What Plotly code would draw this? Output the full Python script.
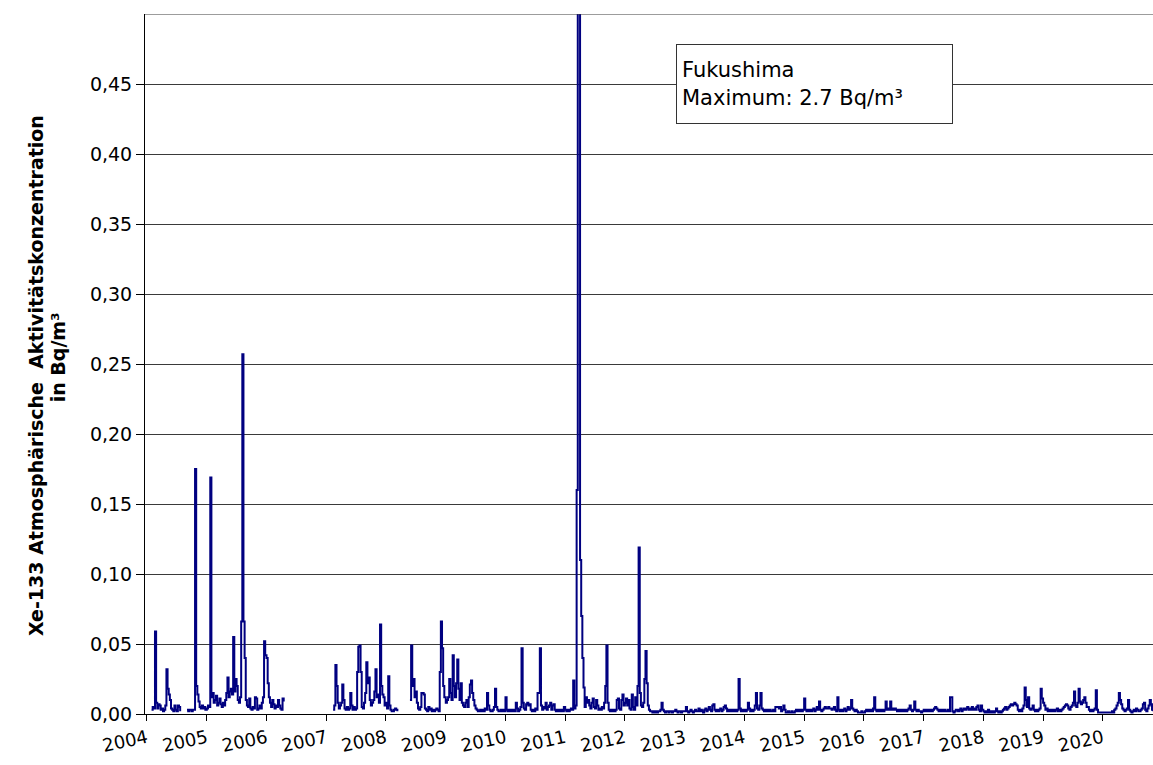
import pandas as pd
import plotly.graph_objects as go

# Weekly Xe-133 activity concentrations in mBq/m³ (None = no measurement).
# Each list starts with the first week of January of its year.
xe_2004 = [None, None, None, None, 3, 5, 4, 59, 8, 4, 7, 6, 3, 4, 2, 3, 6, 32, 18, 14,
           10, 4, 3, 2, 6, 3, 2, 6, 5, 2, None, None, None, None, None, 3, 2, 3, 3, 2,
           3, 3, 175, 20, 14, 9, 5, 4, 6, 4, 5, 3]
xe_2005 = [4, 6, 5, 169, 12, 15, 8, 10, 13, 6, 8, 11, 7, 5, 8, 6, 10, 15, 26, 12,
           16, 18, 14, 55, 16, 25, 20, 10, 8, 12, 66, 257, 66, 40, 10, 6, 5, 11, 4, 3,
           5, 4, 12, 11, 3, 4, 6, 4, 8, 12, 52, 42]
xe_2006 = [40, 22, 12, 8, 5, 10, 7, 4, 6, 5, 10, 6, 4, 3, 11, 9, None, None, None, None,
           None, None, None, None, None, None, None, None, None, None, None, None, None, None, None, None,
           None, None, None, None, None, None, None, None, None, None, None, None, None, None, None, None]
xe_2007 = [None, None, None, None, None, None, 3, 6, 35, 20, 8, 4, 6, 8, 21, 10, 4, 3, 5, 3,
           4, 15, 6, 3, 5, 3, 4, 30, 48, 49, 30, 5, 4, 8, 15, 37, 22, 26, 10, 6,
           8, 10, 16, 32, 12, 14, 8, 64, 20, 14, 12, 6]
xe_2008 = [8, 4, 27, 6, 3, 2, 2, 3, 4, 3, 2, None, None, None, None, None, None, None, None, None,
           None, 10, 49, 20, 25, 12, 16, 8, 4, 3, 5, 15, 15, 14, 4, 3, 2, 5, 3, 4,
           2, 3, 2, 3, 4, 3, 2, 30, 66, 47, 20, 12]
xe_2009 = [8, 10, 12, 25, 15, 10, 42, 20, 12, 22, 39, 18, 10, 22, 8, 6, 5, 8, 10, 5,
           12, 21, 24, 15, 10, 6, 4, 3, 2, 2, 3, 2, 3, 2, 4, 3, 15, 6, 3, 2,
           2, 3, 5, 18, 5, 3, 2, 2, 3, 2, 3, 2]
xe_2010 = [12, 3, 2, 3, 2, 3, 2, 3, 2, 8, 4, 2, 3, 5, 47, 8, 4, 3, 7, 8,
           6, 7, 3, 2, 3, 2, 4, 3, 15, 15, 47, 6, 3, 5, 4, 8, 3, 5, 6, 8,
           3, 6, 7, 3, 2, 3, 2, 3, 2, 3, 2, 5]
xe_2011 = [3, 2, 3, 2, 3, 4, 3, 24, 4, 6, 160, 2700, 1200, 110, 70, 40, 19, 5, 12, 8,
           10, 6, 4, 8, 11, 5, 4, 10, 6, 3, 4, 3, 5, 4, 8, 20, 49, 8, 3, 2,
           3, 2, 3, 2, 3, 10, 11, 4, 3, 10, 14, 6]
xe_2012 = [8, 11, 6, 10, 4, 3, 14, 5, 3, 12, 6, 20, 119, 15, 6, 5, 8, 25, 45, 22,
           6, 3, 2, 2, 1, 2, 1, 2, 1, 2, 2, 3, 8, 3, 2, 1, 2, 2, 1, 2,
           2, 1, 2, 2, 3, 2, 1, 2, 2, 1, 2, 2]
xe_2013 = [2, 5, 2, 1, 2, 3, 2, 1, 2, 3, 2, 2, 4, 2, 3, 2, 1, 3, 4, 2,
           3, 5, 3, 2, 6, 7, 3, 2, 3, 2, 3, 4, 2, 3, 5, 6, 4, 2, 3, 2,
           3, 2, 3, 2, 3, 2, 3, 25, 4, 2, 3, 2]
xe_2014 = [3, 2, 3, 8, 4, 2, 3, 2, 3, 6, 15, 4, 3, 6, 15, 4, 3, 2, 3, 2,
           3, 2, 3, 2, 2, 3, 2, 5, 5, 5, 4, 5, 2, 3, 6, 3, 1, 1, 2, 1,
           1, 2, 1, 1, 2, 3, 2, 3, 2, 3, 2, 3]
xe_2015 = [11, 3, 2, 3, 2, 3, 2, 3, 4, 2, 3, 5, 3, 9, 3, 2, 3, 4, 5, 4,
           4, 5, 4, 4, 3, 4, 5, 3, 2, 12, 3, 2, 3, 2, 3, 4, 2, 3, 5, 3,
           4, 10, 4, 3, 2, 3, 2, 1, 1, 1, 2, 1]
xe_2016 = [1, 2, 3, 2, 3, 2, 3, 2, 4, 12, 3, 2, 3, 2, 3, 2, 3, 2, 3, 9,
           3, 4, 3, 9, 3, 4, 3, 4, 3, 2, 3, 2, 3, 2, 3, 2, 3, 2, 3, 4,
           6, 3, 2, 3, 9, 3, 2, 3, 2, 2, 1, 2]
xe_2017 = [3, 2, 3, 2, 3, 2, 3, 2, 3, 4, 5, 4, 3, 2, 3, 2, 3, 2, 3, 2,
           2, 3, 2, 12, 12, 2, 1, 2, 3, 3, 2, 3, 4, 2, 3, 4, 3, 4, 5, 3,
           4, 3, 5, 3, 4, 3, 5, 6, 3, 2, 6, 3]
xe_2018 = [2, 1, 2, 1, 3, 1, 2, 1, 2, 1, 2, 4, 2, 1, 2, 1, 2, 3, 4, 5,
           3, 4, 5, 6, 7, 6, 7, 8, 7, 6, 3, 2, 3, 2, 4, 6, 19, 10, 5, 12,
           4, 3, 4, 6, 3, 2, 3, 2, 3, 4, 18, 11]
xe_2019 = [8, 6, 3, 4, 2, 3, 2, 3, 2, 3, 2, 3, 4, 2, 3, 2, 3, 4, 5, 6,
           7, 6, 4, 3, 5, 6, 8, 16, 6, 5, 8, 18, 9, 7, 8, 10, 12, 8, 5, 5,
           3, 2, 3, 2, 3, 4, 17, 3, 1, 1, 1, 1]
xe_2020 = [1, 1, 1, 1, 1, 1, 1, 1, 2, 1, 3, 4, 6, 8, 15, 10, 7, 4, 3, 2,
           3, 4, 10, 3, 2, 1, 2, 3, 2, 4, 3, 2, 2, 3, 4, 7, 8, 3, 2, 4,
           6, 10, 7, 3, 2]

years = list(range(2004, 2021))
yearly_series = [xe_2004, xe_2005, xe_2006, xe_2007, xe_2008, xe_2009, xe_2010, xe_2011,
                 xe_2012, xe_2013, xe_2014, xe_2015, xe_2016, xe_2017, xe_2018, xe_2019, xe_2020]
year_labels = [str(y) for y in years]
y_ticks = [0.00, 0.05, 0.10, 0.15, 0.20, 0.25, 0.30, 0.35, 0.40, 0.45]

# Sampling dates: one value per week, starting on 1 January of each year
dates, values = [], []
for year, weekly in zip(years, yearly_series):
    start = pd.Timestamp(f"{year}-01-01")
    for week, v in enumerate(weekly):
        dates.append(start + pd.Timedelta(days=7 * week))
        values.append(None if v is None else v / 1000.0)

FONT = "DejaVu Sans"
GRID = "#3a3a3a"

fig = go.Figure()
fig.add_trace(go.Scatter(
    x=dates, y=values, mode="lines",
    line=dict(color="#000080", width=2, shape="hv"),
    connectgaps=False, showlegend=False, hoverinfo="skip",
))

fig.update_layout(
    width=1153, height=765,
    margin=dict(l=145, r=0, t=14, b=51),
    paper_bgcolor="white", plot_bgcolor="white",
    separators=",.",
    font=dict(family=FONT, size=19, color="black"),
    xaxis=dict(
        type="date",
        range=["2003-12-20", "2020-11-03"],
        tickmode="array",
        tickvals=[pd.Timestamp(f"{y}-01-01") for y in years],
        ticktext=year_labels,
        tickangle=-12,
        ticks="outside", ticklen=6, tickwidth=1, tickcolor="black",
        showgrid=False, zeroline=False,
        showline=True, linecolor="black", linewidth=1,
        tickfont=dict(family=FONT, size=18, color="black"),
    ),
    yaxis=dict(
        range=[0, 0.5],
        tickmode="array",
        tickvals=y_ticks,
        tickformat=".2f",
        ticks="outside", ticklen=8, tickwidth=1, tickcolor="black",
        showgrid=True, gridcolor=GRID, gridwidth=1,
        zeroline=False,
        showline=True, linecolor="black", linewidth=1,
        tickfont=dict(family=FONT, size=19, color="black"),
    ),
)

# Upper boundary line of the plot area at 0,50
fig.add_shape(type="line", xref="paper", yref="y", x0=0, x1=1, y0=0.5, y1=0.5,
              line=dict(color=GRID, width=1))

# Vertical axis title, two lines
title_font = dict(family=FONT, size=19, color="black")
fig.add_annotation(
    text="<b>Xe-133 Atmosphärische  Aktivitätskonzentration</b>",
    xref="paper", yref="paper", x=-0.108, y=0.483,
    xanchor="center", yanchor="middle",
    textangle=-90, showarrow=False, font=title_font,
)
fig.add_annotation(
    text="<b>in Bq/m³</b>",
    xref="paper", yref="paper", x=-0.086, y=0.51,
    xanchor="center", yanchor="middle",
    textangle=-90, showarrow=False, font=title_font,
)

# Note on the off-scale Fukushima peak
fig.add_annotation(
    text="Fukushima<br>Maximum: 2.7 Bq/m³",
    xref="paper", yref="paper",
    x=(676 - 145) / 1008, y=(714 - 44) / 700,
    xanchor="left", yanchor="top",
    align="left", valign="middle",
    width=265, height=68, borderpad=5,
    bgcolor="white", bordercolor="#333333", borderwidth=1,
    showarrow=False,
    font=dict(family=FONT, size=21, color="black"),
)

fig.write_html("out.html")
